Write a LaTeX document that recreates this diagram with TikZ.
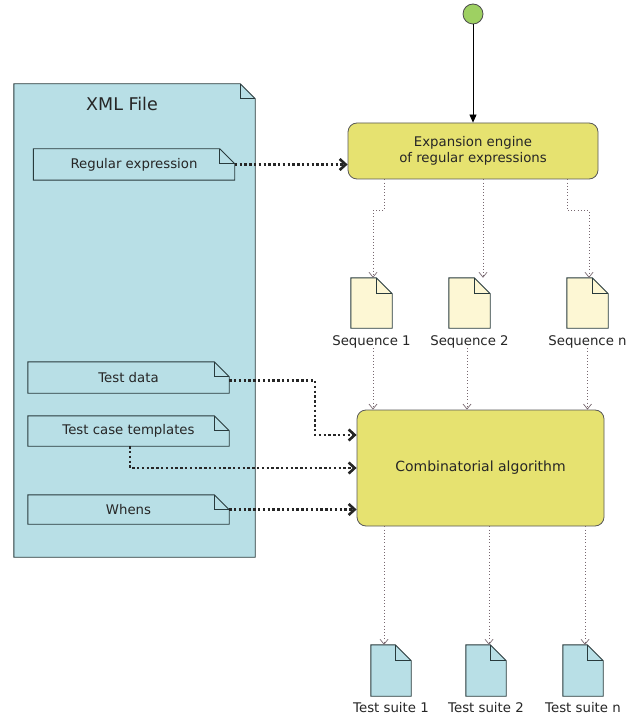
\documentclass[tikz,border=0pt]{standalone}
\usepackage{fontspec}
\setmainfont{DejaVu Sans}
\usetikzlibrary{arrows.meta,backgrounds,positioning}

\definecolor{xmlblue}{RGB}{184,223,230}
\definecolor{edgecol}{RGB}{40,58,60}
\definecolor{engineyellow}{RGB}{230,226,112}
\definecolor{seqcream}{RGB}{253,247,212}
\definecolor{startgreen}{RGB}{158,208,98}
\definecolor{flowgray}{RGB}{120,104,112}

% outline of a sheet with a folded top right corner, around a named node
\newcommand{\foldshape}[3]{%
  \filldraw[fill=#2, draw=edgecol, line width=0.9pt, line join=miter]
    (#1.south west) -- (#1.north west) -- ([xshift=-#3]#1.north east)
    -- ([yshift=-#3]#1.north east) -- (#1.south east) -- cycle;
  \draw[edgecol, line width=0.9pt] ([xshift=-#3]#1.north east) |- ([yshift=-#3]#1.north east);
}

\begin{document}
\begin{tikzpicture}[x=1pt,y=-1pt,
  every node/.style={font=\fontsize{13.3}{16}\selectfont, text=black!85},
  note/.style={inner sep=0, minimum width=201pt, minimum height=31pt},
  doc/.style={inner sep=0, minimum width=41pt, minimum height=50pt},
  engine/.style={rectangle, rounded corners=9pt, draw=black!65, fill=engineyellow, line width=0.8pt, align=center},
  xmlflow/.style={draw=black!85, line width=2.4pt, dash pattern=on 2.4pt off 2.4pt, -{Straight Barb[length=6pt,width=11pt,line width=2.6pt]}},
  seqflow/.style={draw=flowgray, line width=0.9pt, dash pattern=on 1pt off 2.2pt, -{Straight Barb[length=5pt,width=8pt,line width=0.7pt]}}]
  \useasboundingbox (0,0) rectangle (637,719);

  \node[circle, draw=black!70, fill=startgreen, minimum size=20pt, inner sep=0, line width=0.8pt] (start) at (473,14) {};
  \node[engine, minimum width=250pt, minimum height=56pt] (expand) at (473,151) {Expansion engine\\of regular expressions};
  \node[engine, minimum width=247pt, minimum height=116pt, font=\fontsize{14}{17}\selectfont] (combine) at (480.5,468) {Combinatorial algorithm};

  % XML file and its parts
  \node[inner sep=0, minimum width=241pt, minimum height=473pt] (xml) at (134.5,320.5) {};
  \node[font=\fontsize{17.5}{20}\selectfont] (xmltitle) at (122,104) {XML File};
  \node[note] (regex) at (134,164.5) {Regular expression};
  \node[note] (testdata) at (128.5,377.5) {Test data};
  \node[note, minimum height=30pt] (templates) at (128.5,431) {Test case templates};
  \node[note, minimum height=29pt] (whens) at (128.5,509.5) {Whens};

  % sequences
  \node[doc] (seq1) at (371.5,303) {};
  \node[doc] (seq2) at (469.5,303) {};
  \node[doc] (seqn) at (587.5,303) {};
  \node[inner sep=0] (seq1lbl) [below=7pt of seq1] {Sequence 1};
  \node[inner sep=0] (seq2lbl) [below=7pt of seq2] {Sequence 2};
  \node[inner sep=0] (seqnlbl) [below=7pt of seqn] {Sequence n};

  % test suites
  \node[doc, minimum width=40pt, minimum height=51pt] (suite1) at (391,670.5) {};
  \node[doc, minimum width=40pt, minimum height=51pt] (suite2) at (486,670.5) {};
  \node[doc, minimum width=40pt, minimum height=51pt] (suiten) at (583,670.5) {};
  \node[inner sep=0] (suite1lbl) [below=6pt of suite1] {Test suite 1};
  \node[inner sep=0] (suite2lbl) [below=6pt of suite2] {Test suite 2};
  \node[inner sep=0] (suitenlbl) [below=6pt of suiten] {Test suite n};

  \begin{scope}[on background layer]
    \fill[white] (0,0) rectangle (637,719);
    \foldshape{xml}{xmlblue}{15pt}
    \foldshape{regex}{xmlblue}{15pt}
    \foldshape{testdata}{xmlblue}{15pt}
    \foldshape{templates}{xmlblue}{15pt}
    \foldshape{whens}{xmlblue}{15pt}
    \foldshape{seq1}{seqcream}{16pt}
    \foldshape{seq2}{seqcream}{16pt}
    \foldshape{seqn}{seqcream}{16pt}
    \foldshape{suite1}{xmlblue}{16pt}
    \foldshape{suite2}{xmlblue}{16pt}
    \foldshape{suiten}{xmlblue}{16pt}
  \end{scope}

  \draw[-{Triangle[length=8pt,width=7pt]}, line width=0.8pt] (start) -- (expand);

  % inputs from the XML file
  \draw[xmlflow] (regex.east) -- (regex.east -| expand.west);
  \draw[xmlflow] ([yshift=-3pt]testdata.east) -- ++(86,0) |- ([yshift=33pt]combine.west);
  \draw[xmlflow] ([xshift=1.5pt]templates.south) |- (combine.west);
  \draw[xmlflow] (whens.east) -- (whens.east -| combine.west);

  % expansion to sequences
  \draw[seqflow] ([xshift=-89pt]expand.south) -- ++(0,31) -| ([xshift=1.5pt]seq1.north);
  \draw[seqflow] ([xshift=10pt]expand.south) -- ([xshift=13.5pt]seq2.north);
  \draw[seqflow] ([xshift=94pt]expand.south) -- ++(0,31) -| ([xshift=1.5pt]seqn.north);

  % sequences to the algorithm
  \draw[seqflow] ([xshift=1.5pt]seq1lbl.south) -- ([xshift=1.5pt]seq1lbl.south |- combine.north);
  \draw[seqflow] ([xshift=-2.5pt]seq2lbl.south) -- ([xshift=-2.5pt]seq2lbl.south |- combine.north);
  \draw[seqflow] (seqnlbl.south) -- (seqnlbl.south |- combine.north);

  % algorithm to test suites
  \draw[seqflow] ([xshift=-7pt]suite1.north |- combine.south) -- ([xshift=-7pt]suite1.north);
  \draw[seqflow] ([xshift=3pt]suite2.north |- combine.south) -- ([xshift=3pt]suite2.north);
  \draw[seqflow] ([xshift=2pt]suiten.north |- combine.south) -- ([xshift=2pt]suiten.north);
\end{tikzpicture}
\end{document}
